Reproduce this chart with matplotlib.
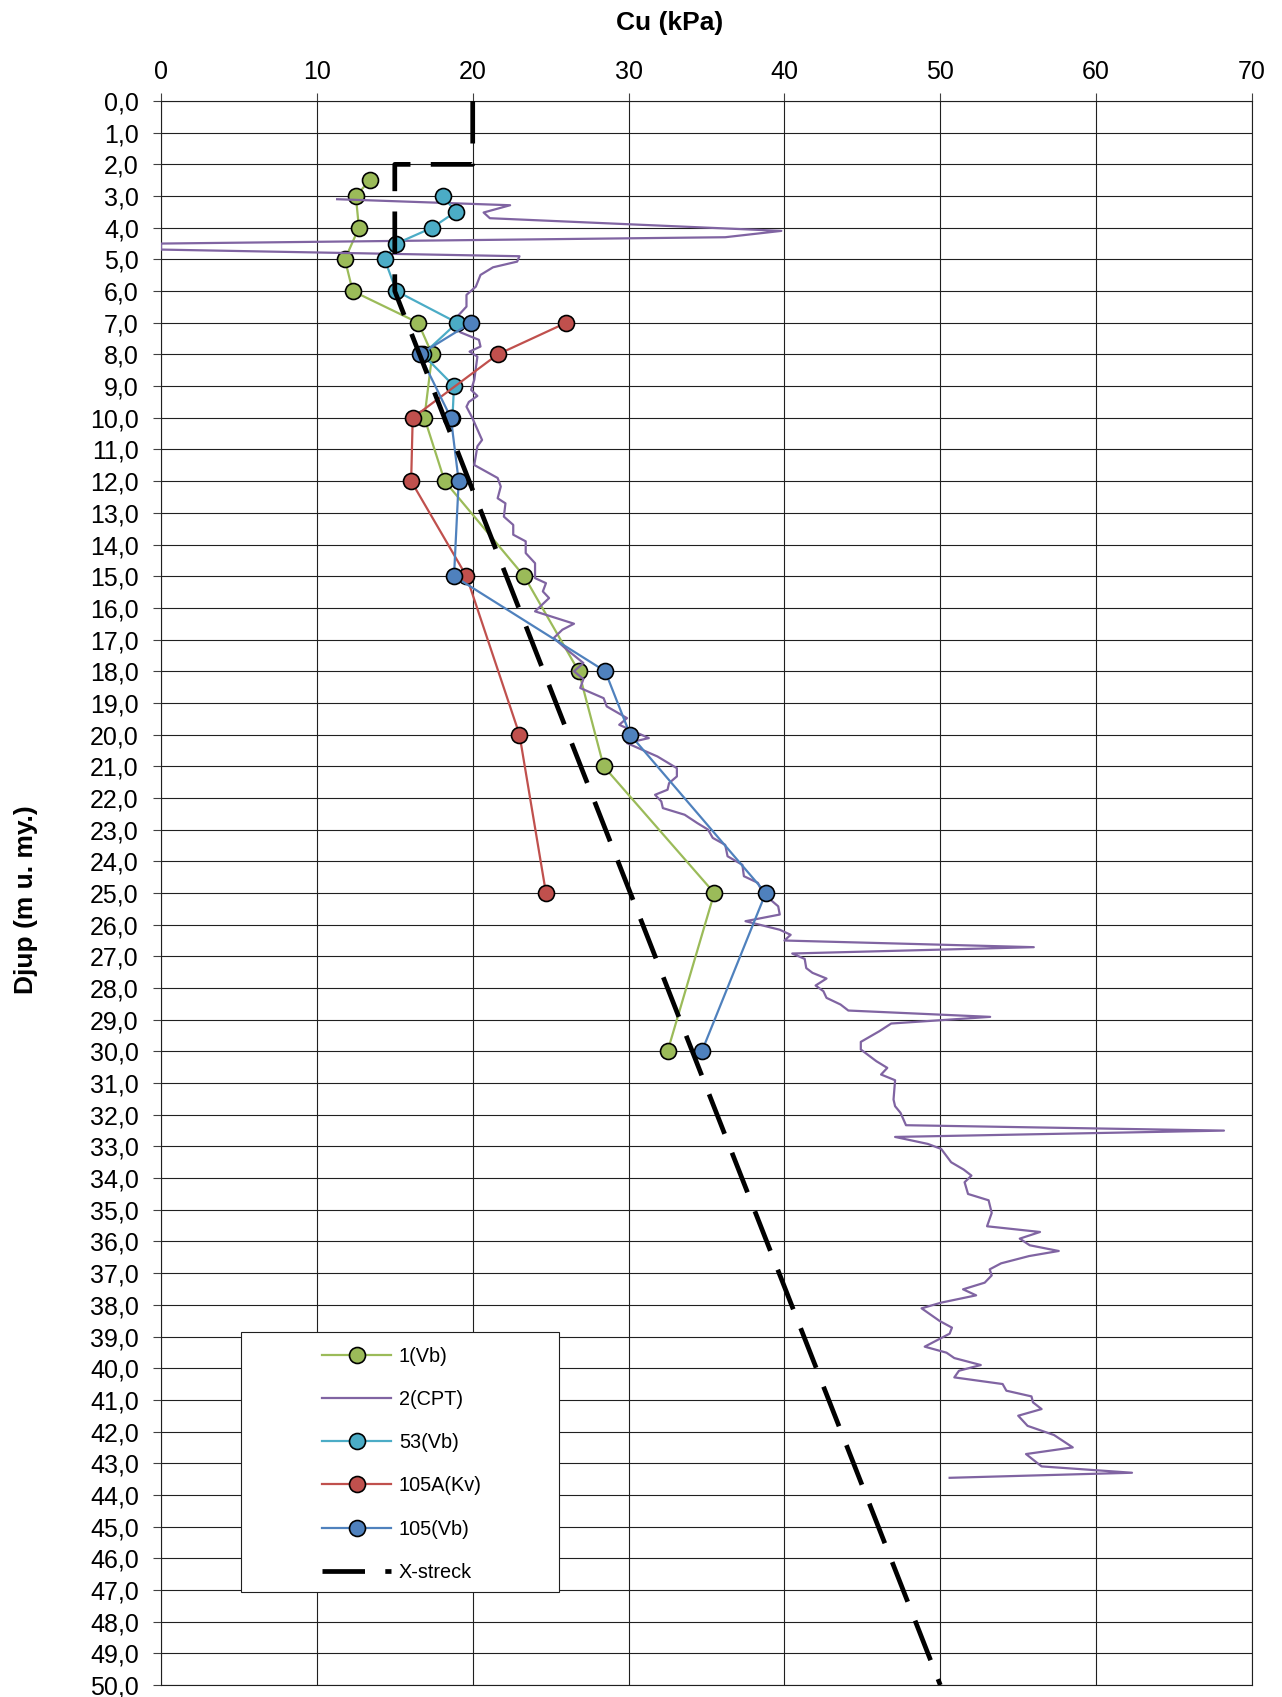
import numpy as np
import matplotlib
matplotlib.use("Agg")
import matplotlib.pyplot as plt
from matplotlib.patches import Rectangle

plt.rcParams['font.family'] = ['Liberation Sans', 'DejaVu Sans']

# 1(Vb)
vb1_cu = [13.4, 12.5, 12.7, 11.8, 12.3, 16.5, 17.4, 16.9, 18.2, 23.3, 26.8, 28.4, 35.5, 32.5]
vb1_z = [2.5, 3.0, 4.0, 5.0, 6.0, 7.0, 8.0, 10.0, 12.0, 15.0, 18.0, 21.0, 25.0, 30.0]

# 2(CPT)
cpt_cu = [11.3, 22.4, 20.7, 21.1, 39.8, 36.2, 0.0, 0.0, 23.0, 22.85, 21.3, 20.5, 20.2, 19.6,
          19.6, 19.0, 19.2, 20.4, 20.5, 19.8, 20.3, 20.1, 19.9, 20.3, 19.75, 19.6, 19.97,
          20.6, 20.3, 20.1, 21.6, 21.8, 21.6, 22.1, 22.0, 22.6, 22.6, 23.4, 23.4, 24.0, 24.0,
          24.7, 24.5, 24.9, 24.0, 26.5, 25.75, 25.2, 26.0, 27.1, 26.5, 27.1, 26.9, 28.4, 28.6,
          29.9, 29.4, 31.3, 29.9, 31.85, 33.1, 33.1, 32.6, 32.5, 31.7, 32.1, 32.2, 33.6, 34.4,
          35.1, 35.4, 36.2, 36.35, 37.3, 37.4, 38.3, 38.6, 39.6, 39.7, 37.5, 39.7, 40.4, 40.0,
          56.0, 40.5, 41.3, 41.4, 41.8, 42.7, 42.0, 42.5, 42.7, 43.6, 44.1, 53.2, 46.85, 46.1,
          44.9, 44.9, 45.9, 46.6, 46.2, 47.1, 47.0, 47.1, 47.45, 47.8, 68.2, 47.1, 49.2, 50.06,
          50.7, 51.5, 52.0, 51.56, 51.78, 53.1, 53.3, 53.0, 56.4, 55.1, 55.74, 57.6, 55.7, 53.9,
          53.17, 53.3, 52.85, 51.46, 52.3, 50.06, 48.8, 49.96, 50.75, 50.6, 49.0, 50.4, 50.9,
          52.6, 51.2, 50.9, 54.0, 54.24, 55.85, 55.95, 56.5, 55.0, 55.6, 56.3, 57.3, 58.5, 55.5,
          56.5, 62.3, 50.6]
cpt_z = [3.1, 3.29, 3.52, 3.7, 4.1, 4.3, 4.5, 4.69, 4.9, 5.07, 5.25, 5.49, 5.86, 6.12,
         6.49, 6.81, 7.3, 7.54, 7.75, 7.91, 8.07, 8.8, 9.12, 9.31, 9.5, 9.65, 10.0,
         10.7, 10.9, 11.49, 11.9, 12.17, 12.54, 12.7, 13.12, 13.38, 13.69, 13.9, 14.27, 14.59, 15.06,
         15.22, 15.48, 15.69, 16.11, 16.5, 16.69, 16.95, 17.3, 17.74, 18.0, 18.25, 18.53, 18.85, 19.11,
         19.48, 19.69, 20.11, 20.27, 20.69, 21.06, 21.32, 21.53, 21.74, 21.9, 22.11, 22.32, 22.53, 22.79,
         23.0, 23.26, 23.48, 23.84, 24.11, 24.47, 24.68, 25.0, 25.42, 25.68, 25.89, 26.16, 26.32, 26.5,
         26.71, 26.91, 27.08, 27.37, 27.52, 27.7, 27.92, 28.1, 28.31, 28.52, 28.71, 28.91, 29.12, 29.36,
         29.7, 29.94, 30.31, 30.52, 30.73, 30.91, 31.52, 31.73, 31.94, 32.33, 32.5, 32.7, 32.92, 33.08,
         33.5, 33.73, 33.92, 34.13, 34.5, 34.7, 35.1, 35.52, 35.7, 35.91, 36.12, 36.3, 36.46, 36.69,
         36.88, 37.07, 37.3, 37.51, 37.7, 37.93, 38.11, 38.51, 38.72, 38.91, 39.32, 39.51, 39.68,
         39.9, 40.08, 40.29, 40.5, 40.71, 40.89, 41.08, 41.29, 41.5, 41.82, 41.94, 42.11, 42.5, 42.71,
         43.1, 43.3, 43.46]

# 53(Vb)
vb53_cu = [18.1, 18.9, 17.4, 15.1, 14.35, 15.1, 19.0, 16.8, 18.8, 18.7]
vb53_z = [3.0, 3.5, 4.0, 4.5, 5.0, 6.0, 7.0, 8.0, 9.0, 10.0]

# 105A(Kv)
kv105a_cu = [26.0, 21.6, 16.15, 16.05, 19.6, 23.0, 24.7]
kv105a_z = [7.0, 8.0, 10.0, 12.0, 15.0, 20.0, 25.0]

# 105(Vb)
vb105_cu = [19.9, 16.6, 18.6, 19.1, 18.8, 28.5, 30.1, 38.8, 34.7]
vb105_z = [7.0, 8.0, 10.0, 12.0, 15.0, 18.0, 20.0, 25.0, 30.0]

# X-streck
xs_cu = [20, 20, 15, 15, 50]
xs_z = [0, 2, 2, 6, 50]

fig = plt.figure(figsize=(12.82, 16.97), dpi=100)
ax = fig.add_axes([161 / 1282, 12 / 1697, 1091 / 1282, 1584 / 1697])

mk = dict(marker='o', markersize=11.5, markeredgecolor='black', markeredgewidth=1.2)
ax.plot(vb1_cu, vb1_z, color='#9BBB59', lw=1.6, markerfacecolor='#9BBB59', label='1(Vb)', zorder=3, **mk)
ax.plot(cpt_cu, cpt_z, color='#8064A2', lw=1.6, label='2(CPT)', zorder=3)
ax.plot(vb53_cu, vb53_z, color='#4BACC6', lw=1.6, markerfacecolor='#4BACC6', label='53(Vb)', zorder=3, **mk)
ax.plot(kv105a_cu, kv105a_z, color='#C0504D', lw=1.6, markerfacecolor='#C0504D', label='105A(Kv)', zorder=3, **mk)
ax.plot(vb105_cu, vb105_z, color='#4F81BD', lw=1.6, markerfacecolor='#4F81BD', label='105(Vb)', zorder=3, **mk)
ax.plot(xs_cu, xs_z, color='black', lw=3.4, dashes=(9, 4.3), label='X-streck', zorder=4)

ax.set_xlim(0, 70)
ax.set_ylim(50, 0)
ax.set_xticks(np.arange(0, 71, 10))
ax.set_yticks(np.arange(0, 51, 1))
ax.set_yticklabels([f"{v:.1f}".replace('.', ',') for v in np.arange(0, 51, 1)])
ax.xaxis.tick_top()
ax.tick_params(axis='both', direction='out', length=6, width=0.8, labelsize=18, color='#404040')
ax.tick_params(axis='x', pad=6.5)
ax.tick_params(axis='y', pad=10)
ax.grid(True, color='#202020', lw=0.8)
ax.set_axisbelow(True)
for s in ax.spines.values():
    s.set_color('#202020')
    s.set_linewidth(0.8)

fig.text(670 / 1282, 1 - 23 / 1697, 'Cu (kPa)', ha='center', va='center',
         fontsize=19, fontweight='bold')
fig.text(26 / 1282, 1 - 900 / 1697, 'Djup (m u. my.)', ha='center', va='center',
         rotation=90, fontsize=19, fontweight='bold')

# legend box
bx, by, bw, bh = 0.0733, 0.0586, 0.2915, 0.164
ax.add_patch(Rectangle((bx, by), bw, bh, transform=ax.transAxes, facecolor='white',
                       edgecolor='#202020', lw=0.8, zorder=6))
leg = ax.legend(loc='center', bbox_to_anchor=(bx + bw / 2 + 0.002, by + bh / 2 - 0.0012),
                frameon=False, fontsize=14.3, handlelength=3.45, labelspacing=1.22,
                handletextpad=0.4, numpoints=1)
leg.set_zorder(7)

fig.savefig('out.png', dpi=100)
